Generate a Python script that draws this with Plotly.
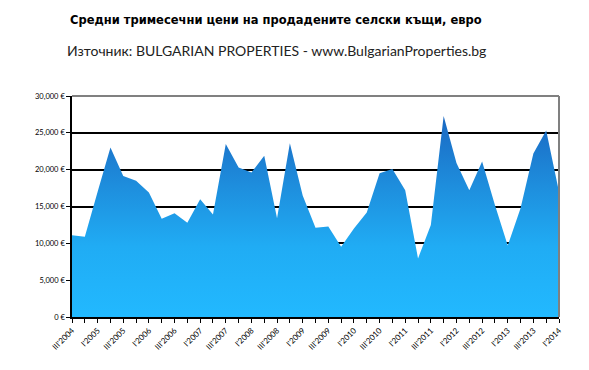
import plotly.graph_objects as go

quarters = []
for y in range(2004, 2015):
    for q in ["I", "II", "III", "IV"]:
        if (y == 2004 and q in ("I", "II")) or (y == 2014 and q != "I"):
            continue
        quarters.append(f"{q}'{y}")

prices = [11100, 10900, 17000, 23000, 19150, 18500, 16900, 13350, 14100, 12800,
          16000, 13900, 23500, 20300, 19600, 21900, 13400, 23600, 16500, 12100,
          12300, 9550, 12000, 14200, 19500, 20100, 17200, 7950, 12500, 27300,
          20900, 17200, 21100, 15200, 9700, 14750, 22200, 25300, 17000]

tick_labels = quarters[::2]
y_ticks = [0, 5000, 10000, 15000, 20000, 25000, 30000]
y_tick_text = ["0 €", "5,000 €", "10,000 €", "15,000 €", "20,000 €", "25,000 €", "30,000 €"]

x_idx = list(range(len(quarters)))

# page body has an 8px margin, so figure is offset by 8px
OFF = 8
PL, PR, PT, PB = 72, 559, 96, 317  # target plot area in page pixels
W, H = 589 - OFF, 370 - OFF
plot_h = PB - PT
plot_w = PR - PL

fig = go.Figure()
fig.add_trace(go.Scatter(
    x=x_idx, y=prices, mode="lines", line=dict(width=0, color="#22b9ff"),
    fill="tozeroy",
    fillgradient=dict(type="vertical", start=0, stop=27300,
                      colorscale=[[0, "#22b9ff"], [0.35, "#20acf4"],
                                  [0.65, "#1e8edd"], [1, "#1a68c2"]]),
    hoverinfo="skip", showlegend=False,
))

fig.update_layout(
    width=W, height=H,
    margin=dict(l=PL - OFF, r=W - (PR - OFF), t=PT - OFF, b=H - (PB - OFF)),
    paper_bgcolor="white", plot_bgcolor="white",
    font=dict(family="Lato, 'DejaVu Sans', sans-serif", color="#000000"),
)
cx = (276 - PL) / plot_w
fig.add_annotation(text="<b>Средни тримесечни цени на продадените селски къщи, евро</b>",
                   xref="paper", yref="paper", x=cx, y=1 + (PT - 20) / plot_h,
                   showarrow=False, font=dict(size=11.5, family="'DejaVu Sans', sans-serif"),
                   xanchor="center", yanchor="middle")
fig.add_annotation(text="Източник: BULGARIAN PROPERTIES - www.BulgarianProperties.bg",
                   xref="paper", yref="paper", x=cx, y=1 + (PT - 50) / plot_h,
                   showarrow=False, font=dict(size=14, family="Lato, sans-serif", color="#222"),
                   xanchor="center", yanchor="middle")

fig.update_xaxes(
    range=[0, len(quarters) - 1],
    tickmode="array", tickvals=x_idx[::2], ticktext=tick_labels,
    tickangle=-45, tickfont=dict(size=8, family="Lato, sans-serif"),
    ticks="outside", ticklen=4, tickcolor="black",
    minor=dict(tickmode="array", tickvals=x_idx, ticks="outside", ticklen=4, tickcolor="black"),
    showline=True, linecolor="black", linewidth=1.5,
    showgrid=False, zeroline=False, mirror=False,
)
fig.update_yaxes(
    range=[0, 30000],
    tickmode="array", tickvals=y_ticks, ticktext=y_tick_text,
    tickfont=dict(size=7.5, family="Lato, sans-serif"),
    ticks="outside", ticklen=4, tickcolor="black",
    showline=True, linecolor="black", linewidth=1.5,
    showgrid=True, gridcolor="black", gridwidth=1.5, zeroline=False,
)
fig.add_shape(type="line", xref="paper", yref="paper", x0=0, x1=1, y0=1, y1=1,
              line=dict(color="#808080", width=2))
fig.add_shape(type="line", xref="paper", yref="paper", x0=1, x1=1, y0=0, y1=1,
              line=dict(color="#808080", width=2))

fig.write_html("out.html")
